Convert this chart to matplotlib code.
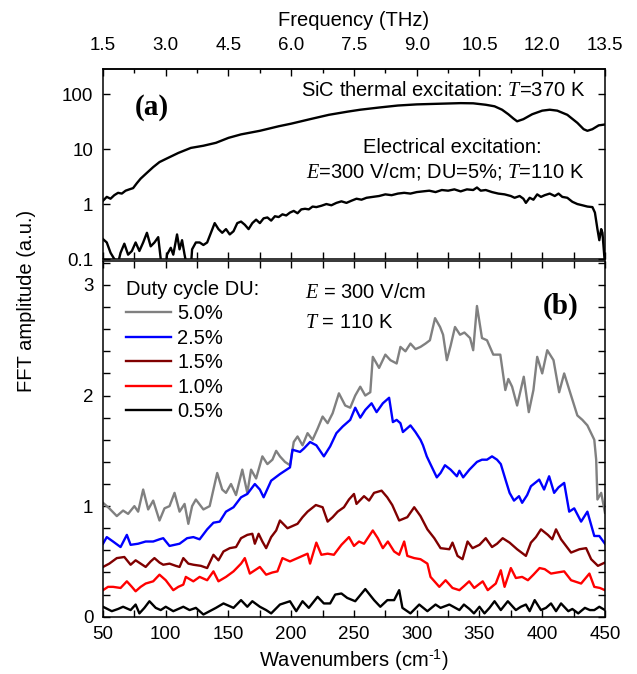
import numpy as np
import matplotlib
matplotlib.use('Agg')
import matplotlib.pyplot as plt
from matplotlib.ticker import MultipleLocator, NullLocator, FixedLocator

plt.rcParams['font.family'] = 'Liberation Sans'
plt.rcParams['mathtext.fontset'] = 'custom'
plt.rcParams['mathtext.rm'] = 'Liberation Sans'
plt.rcParams['mathtext.it'] = 'Liberation Serif:italic'
plt.rcParams['axes.linewidth'] = 1.1

# ---- panel (a): log amplitude ----
thermal_wn = [50, 53, 56, 59, 62, 65, 68, 71, 74, 77,
              80, 85, 90, 95, 100, 110, 120, 130, 140, 150,
              160, 175, 190, 200, 215, 230, 245, 255, 270, 285,
              300, 320, 335, 345, 355, 362, 368, 373, 377, 380,
              385, 392, 400, 406, 412, 420, 428, 433, 436, 440,
              445, 450]
thermal_amp = [1.15, 1.35, 1.25, 1.45, 1.6, 1.55, 1.75, 1.85, 1.95, 2.4,
               2.9, 3.7, 4.7, 5.8, 6.6, 8.5, 10.5, 11.5, 13, 16,
               18.5, 21.5, 26, 29, 35, 42, 48, 52, 57, 62,
               65, 67, 68.5, 68, 64, 60, 52, 43, 36, 32,
               35, 43, 50, 52, 50, 42, 30, 23, 21.5, 23,
               27, 28]

elec_wn = [50, 53, 56, 59, 62, 64, 67, 70, 73, 76,
           79, 82, 85, 88, 91, 94, 96, 97, 100, 101,
           104, 106, 109, 111, 113, 115, 117, 120, 121, 124,
           127, 130, 133, 136, 139, 142, 145, 148, 151, 154,
           157, 160, 163, 166, 169, 172, 175, 178, 181, 184,
           187, 190, 193, 196, 199, 202, 205, 208, 211, 214,
           217, 220, 224, 228, 232, 236, 240, 244, 248, 252,
           256, 260, 265, 270, 275, 280, 285, 290, 295, 300,
           305, 310, 315, 320, 325, 330, 335, 340, 345, 348,
           351, 355, 360, 365, 370, 375, 378, 382, 385, 387,
           390, 393, 396, 399, 402, 406, 410, 413, 416, 420,
           424, 428, 432, 436, 440, 442, 444, 445.5, 447, 448,
           450]
elec_amp = [0.23, 0.2, 0.13, 0.1, 0.085, 0.13, 0.19, 0.12, 0.14, 0.2,
            0.14, 0.2, 0.3, 0.17, 0.2, 0.25, 0.1, 0.07, 0.07, 0.12,
            0.16, 0.12, 0.28, 0.15, 0.22, 0.12, 0.07, 0.07, 0.15, 0.2,
            0.2, 0.18, 0.2, 0.3, 0.45, 0.35, 0.3, 0.35, 0.28, 0.32,
            0.45, 0.48, 0.42, 0.35, 0.45, 0.52, 0.45, 0.55, 0.57, 0.5,
            0.6, 0.58, 0.65, 0.62, 0.7, 0.75, 0.68, 0.8, 0.82, 0.8,
            0.9, 0.88, 0.93, 1.0, 0.95, 1.05, 1.12, 1.05, 1.15, 1.25,
            1.2, 1.3, 1.35, 1.4, 1.5, 1.45, 1.55, 1.6, 1.55, 1.65,
            1.7, 1.75, 1.65, 1.8, 1.75, 1.85, 1.7, 1.85, 1.8, 2.0,
            1.75, 1.8, 1.65, 1.55, 1.5, 1.4, 1.3, 1.4, 1.25, 1.05,
            1.3, 1.2, 1.5, 1.35, 1.45, 1.55, 1.4, 1.55, 1.35, 1.3,
            1.1, 1.0, 0.95, 0.9, 0.88, 0.7, 0.35, 0.22, 0.35, 0.3,
            0.08]

# ---- panel (b): duty cycle series ----
du5_wn = [50, 55, 61, 66, 70, 75, 78, 82, 86, 90,
          95, 99, 103, 107, 111, 115, 118, 121, 124, 130,
          135, 141, 145, 148, 152, 156, 161, 165, 168, 172,
          177, 181, 185, 188, 191, 195, 199, 202, 205, 209,
          213, 217, 221, 225, 229, 233, 238, 243, 247, 251,
          255, 259, 263, 265, 270, 275, 279, 284, 287, 291,
          295, 299, 303, 307, 310.5, 314.6, 318.6, 321, 324, 327,
          330.5, 334.5, 338, 342.5, 345, 348, 352, 356, 361, 366.6,
          370.6, 373, 376, 380, 385.3, 389.3, 393, 396, 400, 404,
          409, 413.5, 417.5, 423, 428, 432, 436, 441.5, 443, 444,
          447, 450]
du5_amp = [1.03, 0.98, 0.91, 0.96, 0.93, 1.0, 0.95, 1.15, 0.97, 1.05,
           0.87, 0.98, 1.0, 1.12, 0.95, 1.02, 0.84, 1.0, 1.06, 0.97,
           1.0, 1.30, 1.15, 1.12, 1.2, 1.1, 1.33, 1.12, 1.33, 1.25,
           1.45, 1.38, 1.42, 1.5, 1.45, 1.4, 1.37, 1.58, 1.63, 1.55,
           1.66, 1.6, 1.7, 1.81, 1.75, 1.84, 2.02, 1.91, 1.89, 2.0,
           2.08, 2.0, 2.03, 2.35, 2.25, 2.37, 2.32, 2.29, 2.44, 2.40,
           2.47, 2.42, 2.44, 2.47, 2.50, 2.70, 2.62, 2.55, 2.32, 2.45,
           2.62, 2.55, 2.57, 2.52, 2.41, 2.81, 2.52, 2.50, 2.37, 2.37,
           2.05, 2.15, 2.08, 1.91, 2.17, 1.85, 2.05, 2.35, 2.20, 2.41,
           2.32, 2.03, 2.20, 2.00, 1.82, 1.78, 1.73, 1.60, 1.42, 1.06,
           1.12, 0.94]

du25_wn = [50, 53, 58, 64, 69, 72, 78, 84, 90, 95,
           98, 103, 107, 111, 117, 122, 127, 133, 138, 143,
           148, 154, 160, 165, 171, 175, 178, 184, 191, 199,
           201, 204, 207, 210, 215, 220, 226, 231, 236, 241,
           247, 251, 255, 259, 264, 268, 273, 278, 281, 284,
           287, 289, 292, 295, 299, 303, 305, 308, 310.5, 316,
           319, 322.5, 327, 332, 334, 337, 342, 348, 352, 356,
           360, 364, 367, 371, 374, 377.5, 381.5, 384, 388, 391,
           397.6, 401.5, 405.5, 409.5, 413, 417.5, 421.5, 425.5, 431, 436,
           441.5, 445.5, 450]
du25_amp = [0.66, 0.72, 0.68, 0.63, 0.74, 0.65, 0.66, 0.68, 0.68, 0.70,
            0.71, 0.64, 0.65, 0.66, 0.71, 0.72, 0.70, 0.79, 0.85, 0.86,
            0.95, 0.99, 1.08, 1.11, 1.20, 1.15, 1.08, 1.23, 1.29, 1.35,
            1.51, 1.50, 1.49, 1.52, 1.58, 1.55, 1.45, 1.54, 1.66, 1.72,
            1.78, 1.89, 1.80, 1.87, 1.93, 1.85, 1.93, 1.98, 1.76, 1.78,
            1.75, 1.67, 1.70, 1.73, 1.67, 1.60, 1.55, 1.45, 1.39, 1.26,
            1.30, 1.37, 1.33, 1.27, 1.32, 1.26, 1.33, 1.40, 1.42, 1.42,
            1.45, 1.42, 1.38, 1.23, 1.12, 1.05, 1.09, 1.03, 1.10, 1.18,
            1.24, 1.15, 1.27, 1.12, 1.17, 1.21, 0.95, 0.98, 0.86, 0.95,
            0.73, 0.73, 0.66]

du15_wn = [50, 55, 61, 67, 72, 76, 80, 84, 88, 91,
           95, 98, 103, 108, 111, 114, 118, 122, 128, 133,
           138, 142, 146, 151, 156, 160, 165, 169, 171, 174,
           177, 180, 184, 188, 191, 197, 201, 205, 209, 213,
           219.6, 225, 229, 233, 237, 242, 246, 250, 252, 258,
           262, 266, 272, 276.5, 280.5, 286, 292.5, 298, 303, 308.5,
           314, 319, 326, 328.5, 332.5, 336.5, 340.5, 344.5, 350, 355,
           360, 364, 368.5, 374, 380, 387, 391, 395, 399, 404.5,
           408, 411, 415, 419, 423, 429.6, 435, 439, 444.4, 450]
du15_amp = [0.45, 0.48, 0.53, 0.54, 0.47, 0.51, 0.48, 0.45, 0.50, 0.53,
            0.49, 0.47, 0.48, 0.46, 0.45, 0.53, 0.48, 0.47, 0.46, 0.44,
            0.56, 0.51, 0.59, 0.62, 0.63, 0.71, 0.74, 0.75, 0.66, 0.75,
            0.68, 0.62, 0.72, 0.78, 0.87, 0.80, 0.82, 0.84, 0.90, 0.95,
            1.01, 0.99, 0.86, 0.90, 0.95, 0.99, 1.06, 1.11, 1.02, 1.09,
            1.05, 1.12, 1.14, 1.08, 1.01, 0.87, 0.90, 0.99, 0.91, 0.79,
            0.71, 0.62, 0.61, 0.67, 0.55, 0.52, 0.68, 0.62, 0.65, 0.71,
            0.63, 0.66, 0.71, 0.67, 0.61, 0.55, 0.67, 0.72, 0.79, 0.74,
            0.70, 0.79, 0.70, 0.64, 0.58, 0.61, 0.62, 0.52, 0.46, 0.49]

du10_wn = [50, 54, 58, 64, 69, 73, 76, 80, 84, 90,
           95, 100, 106, 110, 114, 116, 122, 127, 133, 138,
           142, 148, 154, 160, 163, 167, 171, 175, 180, 185,
           189, 193, 199, 203, 207, 213, 215, 220, 224, 229,
           234, 240, 246, 250, 254, 258, 265, 269, 273, 277,
           282, 286, 290, 292.5, 298, 303, 308.5, 311, 318, 323,
           328.5, 334, 338, 341.8, 345.8, 352.6, 356.6, 363, 367, 370,
           375, 379, 384, 388.6, 393, 397.9, 402, 407, 412, 417.5,
           423, 431, 437.6, 441.5, 446, 450]
du10_amp = [0.24, 0.27, 0.27, 0.26, 0.32, 0.27, 0.23, 0.27, 0.30, 0.32,
            0.38, 0.33, 0.24, 0.27, 0.29, 0.36, 0.32, 0.36, 0.33, 0.41,
            0.32, 0.36, 0.41, 0.48, 0.53, 0.39, 0.42, 0.45, 0.38, 0.40,
            0.41, 0.53, 0.50, 0.52, 0.54, 0.57, 0.48, 0.67, 0.56, 0.57,
            0.56, 0.65, 0.72, 0.64, 0.68, 0.66, 0.78, 0.71, 0.62, 0.68,
            0.59, 0.56, 0.68, 0.55, 0.53, 0.52, 0.48, 0.36, 0.27, 0.33,
            0.26, 0.24, 0.28, 0.32, 0.26, 0.32, 0.24, 0.30, 0.42, 0.27,
            0.44, 0.35, 0.36, 0.33, 0.38, 0.44, 0.43, 0.39, 0.40, 0.41,
            0.33, 0.30, 0.39, 0.27, 0.26, 0.24]

du05_wn = [50, 57, 62, 66, 72, 76, 79, 83, 87, 92,
           96, 100, 106, 110, 114, 119, 124, 130, 135, 140,
           146, 150, 154, 160, 165, 169, 175, 180, 184, 191,
           199, 204, 209, 214, 221, 226, 231, 235, 240, 244.6,
           251, 259, 266, 271, 276.6, 282, 286, 288.6, 295, 302,
           308.5, 315, 319, 326, 334, 337.6, 342, 345.6, 350, 354,
           358, 362, 367, 372.6, 379, 383, 387, 390, 394, 399,
           403, 407, 411, 415, 420.8, 424, 428.7, 434, 438, 441.5,
           445.5, 450]
du05_amp = [0.09, 0.05, 0.07, 0.09, 0.06, 0.11, 0.03, 0.08, 0.14, 0.08,
            0.06, 0.09, 0.05, 0.07, 0.09, 0.06, 0.08, 0.02, 0.05, 0.08,
            0.12, 0.10, 0.08, 0.15, 0.09, 0.14, 0.09, 0.06, 0.03, 0.11,
            0.14, 0.05, 0.14, 0.08, 0.18, 0.12, 0.12, 0.20, 0.21, 0.17,
            0.14, 0.25, 0.15, 0.09, 0.15, 0.15, 0.24, 0.08, 0.03, 0.11,
            0.05, 0.11, 0.08, 0.11, 0.06, 0.11, 0.07, 0.03, 0.09, 0.03,
            0.08, 0.14, 0.06, 0.14, 0.06, 0.09, 0.11, 0.05, 0.15, 0.06,
            0.08, 0.12, 0.05, 0.12, 0.05, 0.07, 0.03, 0.08, 0.06, 0.06,
            0.09, 0.06]

du_labels = ['5.0%', '2.5%', '1.5%', '1.0%', '0.5%']
du_colors = ['#808080', '#0000ff', '#800000', '#ff0000', '#000000']
du_series = [(du5_wn, du5_amp), (du25_wn, du25_amp), (du15_wn, du15_amp),
             (du10_wn, du10_amp), (du05_wn, du05_amp)]

thz_ticks = [1.5, 3.0, 4.5, 6.0, 7.5, 9.0, 10.5, 12.0, 13.5]
# axis drawn with 1.5 THz per 50 cm-1 (rounded from 0.02998)
CM_TO_THZ = 0.03

TICK_FS = 13.5
TEXT_FS = 14.5
LW = 1.7


def to_thz(w):
  return np.asarray(w) * CM_TO_THZ


def to_wn(f):
  return np.asarray(f) / CM_TO_THZ


fig = plt.figure(figsize=(6.37, 6.74), dpi=100)
ax_a = fig.add_axes([0.1617, 0.6157, 0.788, 0.2819])
ax_b = fig.add_axes([0.1617, 0.0850, 0.788, 0.5278])

# panel (a)
ax_a.plot(thermal_wn, thermal_amp, color='black', lw=LW, solid_joinstyle='round')
ax_a.plot(elec_wn, elec_amp, color='black', lw=LW, solid_joinstyle='round')
ax_a.set_yscale('log')
ax_a.set_xlim(50, 450)
ax_a.set_ylim(0.1, 286)
ax_a.yaxis.set_major_locator(FixedLocator([0.1, 1, 10, 100]))
ax_a.set_yticklabels(['0.1', '1', '10', '100'])
ax_a.yaxis.set_minor_locator(NullLocator())
ax_a.xaxis.set_major_locator(MultipleLocator(50))
ax_a.xaxis.set_minor_locator(MultipleLocator(25))
ax_a.tick_params(which='both', direction='in', top=False, right=True,
                 labelbottom=False, labelsize=TICK_FS, pad=7)
ax_a.tick_params(which='major', length=5, width=1)
ax_a.tick_params(which='minor', length=5, width=1)

sec = ax_a.secondary_xaxis('top', functions=(to_thz, to_wn))
sec.set_xticks(thz_ticks)
sec.set_xticklabels(['%.1f' % t for t in thz_ticks])
sec.xaxis.set_minor_locator(MultipleLocator(0.75))
sec.tick_params(which='both', direction='in', labelsize=TICK_FS, pad=11)
sec.tick_params(which='major', length=5, width=1)
sec.tick_params(which='minor', length=3, width=1)
sec.set_xlabel('Frequency (THz)', fontsize=TEXT_FS, labelpad=8)

ax_a.text(0.098, 0.80, '(a)', transform=ax_a.transAxes, fontsize=21,
          fontweight='bold', family='Liberation Serif', ha='center', va='center')
ax_a.text(0.96, 0.885, 'SiC thermal excitation: $T$=370 K', transform=ax_a.transAxes,
          fontsize=TEXT_FS, ha='right', va='center')
ax_a.text(0.695, 0.585, 'Electrical excitation:', transform=ax_a.transAxes,
          fontsize=TEXT_FS, ha='center', va='center')
ax_a.text(0.96, 0.458, '$E$=300 V/cm; DU=5%; $T$=110 K', transform=ax_a.transAxes,
          fontsize=TEXT_FS, ha='right', va='center')

# panel (b)
for (wn, amp), lab, col in zip(du_series, du_labels, du_colors):
  ax_b.plot(wn, amp, color=col, lw=LW, label=lab, solid_joinstyle='round')
ax_b.set_xlim(50, 450)
ax_b.set_ylim(0, 3.217)
ax_b.xaxis.set_major_locator(MultipleLocator(50))
ax_b.xaxis.set_minor_locator(MultipleLocator(25))
ax_b.yaxis.set_major_locator(MultipleLocator(1))
ax_b.yaxis.set_minor_locator(MultipleLocator(0.2))
ax_b.tick_params(which='both', direction='in', top=True, right=True,
                 labelsize=TICK_FS)
ax_b.tick_params(axis='x', pad=7)
ax_b.tick_params(axis='y', pad=7)
ax_b.tick_params(which='major', length=5, width=1)
ax_b.tick_params(which='minor', length=5, width=1)
ax_b.set_xlabel(r'Wavenumbers (cm$^{\text{-1}}$)', fontsize=TEXT_FS, labelpad=3)

leg = ax_b.legend(loc='upper left', bbox_to_anchor=(0.046, 0.947), frameon=False,
                  title='Duty cycle DU:', alignment='left', fontsize=TEXT_FS,
                  title_fontsize=TEXT_FS, handlelength=2.25, handletextpad=0.3,
                  labelspacing=0.27, borderpad=0, borderaxespad=0)

ax_b.text(0.402, 0.91, '$E$ = 300 V/cm', transform=ax_b.transAxes,
          fontsize=TEXT_FS, ha='left', va='center')
ax_b.text(0.402, 0.826, '$T$ = 110 K', transform=ax_b.transAxes,
          fontsize=TEXT_FS, ha='left', va='center')
ax_b.text(0.912, 0.872, '(b)', transform=ax_b.transAxes, fontsize=21,
          fontweight='bold', family='Liberation Serif', ha='center', va='center')

fig.text(0.041, 0.553, 'FFT amplitude (a.u.)', rotation=90, fontsize=TEXT_FS,
         ha='center', va='center')

fig.savefig('out.png', dpi=100)
